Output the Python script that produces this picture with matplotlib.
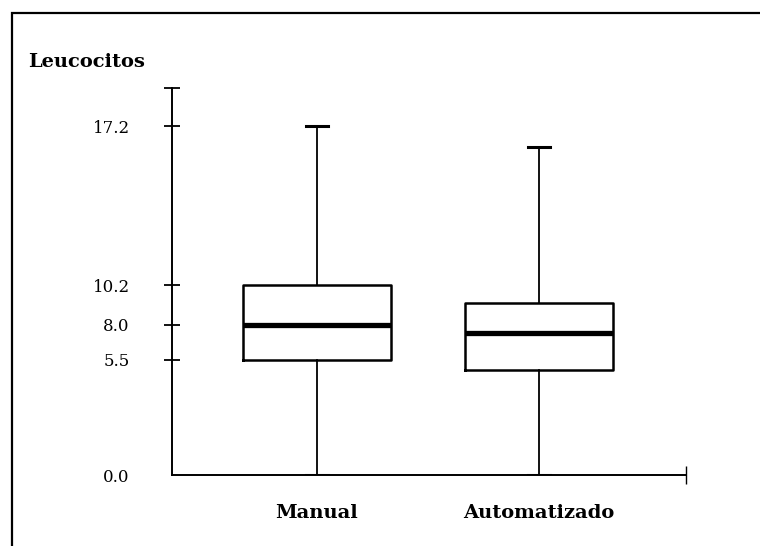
import numpy as np
import matplotlib
matplotlib.use('Agg')
import matplotlib.pyplot as plt
from matplotlib.patches import Rectangle

# Datos de los diagramas de caja (leucocitos)
grupos = ['Manual', 'Automatizado']
minimos = [0.0, 0.0]
q1 = [5.5, 5.0]
medianas = [8.0, 7.4]
q3 = [10.2, 9.2]
maximos = [17.2, 16.3]

# Valores marcados en el eje Y
marcas_y = [0.0, 5.5, 8.0, 10.2, 17.2]

# El dibujo original no está a escala: eje Y lineal por tramos
tramos_val = [0.0, 5.5, 8.0, 10.2, 17.2, 25.0]
tramos_alt = [0.0, 115.0, 150.0, 189.0, 348.0, 525.0]


def adelante(v):
    return np.interp(v, tramos_val, tramos_alt)


def atras(h):
    return np.interp(h, tramos_alt, tramos_val)


plt.rcParams['font.family'] = ['DejaVu Serif']

fig = plt.figure(figsize=(7.6, 5.46), dpi=100)
ax = fig.add_axes([0.2263, 0.130, 0.6763, 0.7088])

stats = []
for i, nombre in enumerate(grupos):
    stats.append({
        'label': nombre,
        'whislo': minimos[i],
        'q1': q1[i],
        'med': medianas[i],
        'q3': q3[i],
        'whishi': maximos[i],
        'fliers': [],
    })

pos = range(1, len(grupos) + 1)
ax.bxp(stats, positions=pos, widths=0.667, capwidths=0.095,
       showfliers=False,
       boxprops=dict(color='black', linewidth=1.8),
       whiskerprops=dict(color='black', linewidth=1.3),
       capprops=dict(color='black', linewidth=2.2),
       medianprops=dict(color='black', linewidth=3.8, solid_capstyle='butt'))

ax.set_yscale('function', functions=(adelante, atras))
ax.set_ylim(0, 18.87)
ax.set_xlim(0.347, 2.662)

ax.set_yticks(marcas_y)
ax.set_yticklabels(['{:.1f}'.format(v) for v in marcas_y])
ax.set_yticks([18.87], minor=True)
ax.set_xticks(list(pos))
ax.set_xticklabels(grupos, fontweight='bold', fontsize=14)
ax.set_xticks([2.662], minor=True)

ax.tick_params(axis='y', which='both', direction='inout', length=11,
               width=1.3, labelsize=12, pad=25)
ax.tick_params(axis='y', which='minor', labelleft=False)
# el 0.0 no lleva marca sobre el eje
ax.yaxis.get_major_ticks()[0].tick1line.set_visible(False)
ax.tick_params(axis='x', which='major', length=0, pad=21)
ax.tick_params(axis='x', which='minor', direction='inout', length=13,
               width=1.0, labelbottom=False)

ax.spines['top'].set_visible(False)
ax.spines['right'].set_visible(False)
ax.spines['left'].set_linewidth(1.4)
ax.spines['bottom'].set_linewidth(1.4)

fig.text(0.037, 0.886, 'Leucocitos', fontweight='bold', fontsize=14,
         ha='left', va='center')

# marco alrededor de la figura
fig.patches.append(Rectangle((0.0158, -0.1), 1.1, 1.076, transform=fig.transFigure,
                             fill=False, edgecolor='black', linewidth=1.6))

plt.savefig('out.png', dpi=100)
